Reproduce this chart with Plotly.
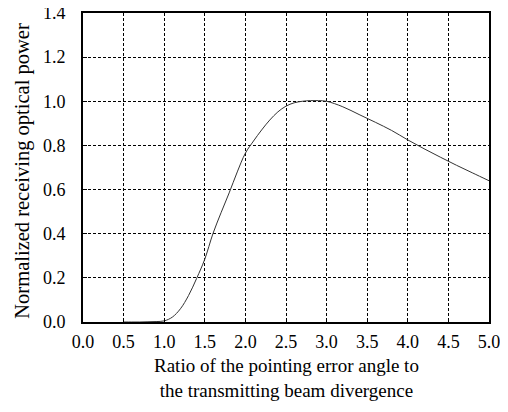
import plotly.graph_objects as go

ratio = [0.5, 0.6, 0.7, 0.8, 0.9, 1.0, 1.1, 1.2, 1.3, 1.4, 1.5, 1.6, 1.7, 1.8, 1.9,
         2.0, 2.1, 2.2, 2.3, 2.4, 2.5, 2.6, 2.7, 2.8, 2.9, 3.0, 3.2, 3.4, 3.6, 3.8,
         4.0, 4.2, 4.4, 4.6, 4.8, 5.0]
power = [0.0, 0.0, 0.0, 0.001, 0.002, 0.005, 0.022, 0.06, 0.12, 0.198, 0.285, 0.40,
         0.495, 0.585, 0.68, 0.765, 0.82, 0.87, 0.915, 0.952, 0.978, 0.993, 1.0,
         1.003, 1.003, 1.0, 0.975, 0.94, 0.905, 0.868, 0.825, 0.785, 0.747, 0.71,
         0.675, 0.64]

x_ticks = [0.0, 0.5, 1.0, 1.5, 2.0, 2.5, 3.0, 3.5, 4.0, 4.5, 5.0]
y_ticks = [0.0, 0.2, 0.4, 0.6, 0.8, 1.0, 1.2, 1.4]

x_title = "Ratio of the pointing error angle to<br>the transmitting beam divergence"
y_title = "Normalized receiving optical power"

FONT = "Liberation Serif"

fig = go.Figure()
fig.add_trace(go.Scatter(x=ratio, y=power, mode="lines",
                         line=dict(color="#333333", width=1, shape="spline"),
                         showlegend=False))

axis_common = dict(
    showline=True, linecolor="black", linewidth=2, mirror=True,
    showgrid=True, gridcolor="black", gridwidth=1, griddash="3px,2px",
    ticks="inside", ticklen=4, tickcolor="black", tickwidth=1,
    zeroline=False, tickfont=dict(family=FONT, size=18, color="black"),
    tickformat=".1f", ticklabeloverflow="allow",
)

fig.update_xaxes(range=[0, 5], tickvals=x_ticks, ticklabelstandoff=2, **axis_common)
fig.update_yaxes(range=[0, 1.4], tickvals=y_ticks, ticklabelstandoff=12, **axis_common)

fig.add_annotation(text=x_title, xref="paper", yref="paper", x=0.5, y=-0.181,
                   xanchor="center", yanchor="middle", showarrow=False,
                   font=dict(family=FONT, size=19, color="black"))
fig.add_annotation(text=y_title,
                   xref="paper", yref="paper", x=-0.150, y=0.49, xanchor="center", yanchor="middle",
                   textangle=-90, showarrow=False, font=dict(family=FONT, size=20.5, color="black"))

fig.update_layout(
    width=500, height=396,
    margin=dict(l=75, r=19, t=5, b=82, autoexpand=False),
    paper_bgcolor="white", plot_bgcolor="white",
    font=dict(family=FONT, color="black"),
)

fig.write_html("out.html")
